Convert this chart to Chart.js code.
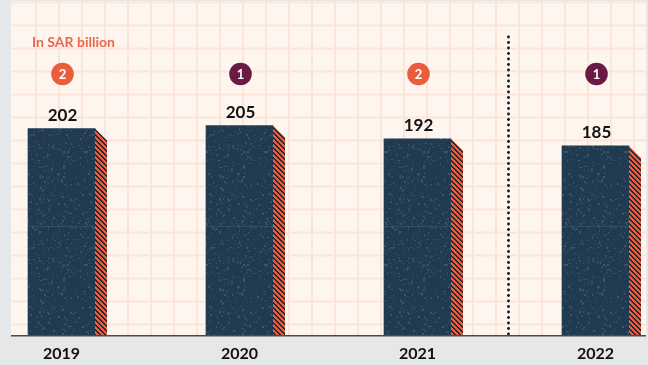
<!DOCTYPE html>
<html>
<head>
<meta charset="utf-8">
<script src="https://cdn.jsdelivr.net/npm/chart.js@4/dist/chart.umd.min.js"></script>
<style>
  body { margin: 0; background: #e6e7e9; }
  canvas { display: block; }
</style>
</head>
<body>
<canvas id="spendChart" width="648" height="365"></canvas>
<script>
const years = ["2019", "2020", "2021", "2022"];
const spending = [202, 205, 192, 185];   // SAR billion
const ranks = [2, 1, 2, 1];
const rankColors = { 1: "#6b1a45", 2: "#e95c3c" };

const NAVY = "#203a51";
const ORANGE = "#ea5a3b";

// speckled navy fill for the bar fronts
function makeTexture() {
  const c = document.createElement("canvas");
  c.width = 60; c.height = 113;
  const g = c.getContext("2d");
  g.fillStyle = NAVY;
  g.fillRect(0, 0, c.width, c.height);
  let seed = 4242;
  const rnd = () => (seed = (seed * 16807) % 2147483647) / 2147483647;
  for (let i = 0; i < 330; i++) {
    const x = Math.floor(rnd() * c.width);
    const y = Math.floor(rnd() * c.height);
    g.fillStyle = rnd() < 0.5 ? "#37495a" : "#435262";
    const w = rnd() < 0.45 ? 2 : 1;
    const h = rnd() < 0.35 ? 2 : 1;
    g.fillRect(x, y, w, h);
  }
  g.fillStyle = "rgba(120,140,150,0.22)";
  g.fillRect(0, 0, c.width, 1);
  return g.createPattern(c, "repeat");
}

// orange / dark diagonal hatch for the bar sides
function makeHatch() {
  const n = 5;
  const c = document.createElement("canvas");
  c.width = n; c.height = n;
  const g = c.getContext("2d");
  for (let y = 0; y < n; y++) {
    for (let x = 0; x < n; x++) {
      g.fillStyle = (((x - y) % n) + n) % n < 2 ? "#1f2833" : ORANGE;
      g.fillRect(x, y, 1, 1);
    }
  }
  return g.createPattern(c, "repeat");
}

const texture = makeTexture();
const hatch = makeHatch();

const panelPlugin = {
  id: "panel",
  beforeDraw(chart) {
    const ctx = chart.ctx;
    const W = chart.width;
    const base = chart.scales.y.getPixelForValue(0);
    ctx.save();
    ctx.fillStyle = "#e6e7e9";
    ctx.fillRect(0, 0, W, chart.height);
    ctx.fillStyle = "#fef5ef";
    ctx.fillRect(11, 1, W - 13, base - 1);
    ctx.strokeStyle = "#fce5d8";
    ctx.lineWidth = 2;
    ctx.beginPath();
    for (let x = 36; x < W - 4; x += 23) {
      ctx.moveTo(x, 1); ctx.lineTo(x, base);
    }
    for (let y = 2.5; y < base; y += 23) {
      ctx.moveTo(11, y); ctx.lineTo(W - 2, y);
    }
    ctx.stroke();
    ctx.restore();
  },
  afterDatasetsDraw(chart) {
    const ctx = chart.ctx;
    const meta = chart.getDatasetMeta(0);
    const xs = chart.scales.x;
    const base = chart.scales.y.getPixelForValue(0);
    const depth = 12;
    ctx.save();

    // side faces
    meta.data.forEach((bar) => {
      const r = bar.x + bar.width / 2;
      ctx.fillStyle = hatch;
      ctx.beginPath();
      ctx.moveTo(r, bar.y);
      ctx.lineTo(r + depth, bar.y + depth);
      ctx.lineTo(r + depth, base);
      ctx.lineTo(r, base);
      ctx.closePath();
      ctx.fill();
    });

    // value labels and rank badges
    ctx.textAlign = "center";
    meta.data.forEach((bar, i) => {
      ctx.fillStyle = "#111111";
      ctx.font = "bold 17px Lato";
      ctx.textBaseline = "alphabetic";
      ctx.fillText(String(spending[i]), bar.x + 1, bar.y - 8);

      ctx.fillStyle = rankColors[ranks[i]];
      ctx.beginPath();
      ctx.arc(bar.x + 1, 74, 11.3, 0, Math.PI * 2);
      ctx.fill();
      ctx.fillStyle = "#ffffff";
      ctx.font = "bold 13px Lato";
      ctx.textBaseline = "middle";
      ctx.fillText(String(ranks[i]), bar.x + 1, 74.5);
    });

    // dotted divider before the latest year
    const dx = Math.round((xs.getPixelForValue(2) + xs.getPixelForValue(3)) / 2) + 1.5;
    ctx.fillStyle = "#111111";
    for (let y = 37; y <= base; y += 5.5) {
      ctx.beginPath();
      ctx.arc(dx, y, 1.4, 0, Math.PI * 2);
      ctx.fill();
    }

    // baseline
    ctx.fillStyle = "#4b4b4b";
    ctx.fillRect(11, base, chart.width - 13, 1.5);

    // unit note
    ctx.fillStyle = "#e9674d";
    ctx.font = "bold 14px Lato";
    ctx.textAlign = "left";
    ctx.textBaseline = "middle";
    ctx.fillText("In SAR billion", 32, 42);
    ctx.restore();
  }
};

new Chart(document.getElementById("spendChart"), {
  type: "bar",
  data: {
    labels: years,
    datasets: [{
      data: spending,
      backgroundColor: texture,
      borderWidth: 0,
      barThickness: 67,
      clip: false
    }]
  },
  options: {
    responsive: false,
    animation: false,
    layout: { padding: { left: 61.5, right: 52.5, top: 8, bottom: 0 } },
    plugins: {
      legend: { display: false },
      tooltip: { enabled: false }
    },
    scales: {
      x: {
        offset: false,
        grid: { display: false, drawTicks: false },
        border: { display: false },
        ticks: {
          color: "#111111",
          font: { family: "Lato", size: 16, weight: "bold" },
          padding: 9,
          maxRotation: 0
        },
        afterFit(scale) { scale.height = 30; }
      },
      y: {
        display: false,
        min: 0,
        max: 320
      }
    }
  },
  plugins: [panelPlugin]
});
</script>
</body>
</html>
